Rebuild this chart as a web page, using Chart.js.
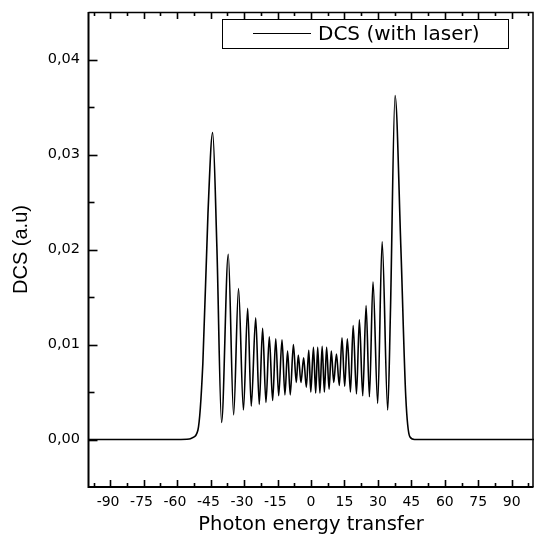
<!DOCTYPE html>
<html><head><meta charset="utf-8">
<script src="https://cdn.jsdelivr.net/npm/chart.js@4/dist/chart.umd.min.js"></script>
<style>html,body{margin:0;padding:0;background:#fff}#wrap{position:relative;width:534px;height:537px}</style>
</head><body><div id="wrap"><canvas id="c" width="534" height="537"></canvas></div>
<script>
const seriesLabel = 'DCS (with laser)';
const xAxisTitle = 'Photon energy transfer';
const yAxisTitle = 'DCS (a.u)';
const xTickLabels = [-90, -75, -60, -45, -30, -15, 0, 15, 30, 45, 60, 75, 90];
const yTickLabels = [0, 0.01, 0.02, 0.03, 0.04];
const energyTransfer = [
  -100, -60, -54.6, -53.1, -50.7, -48.5, -46.2, -44.1, -42.2, -40.1,
  -37.1, -34.7, -32.5, -30.3, -28.4, -26.8, -24.8, -23.2, -21.7, -20.2,
  -18.7, -17.2, -15.8, -14.5, -13.0, -11.7, -10.5, -9.3, -7.9, -6.6,
  -5.7, -4.5, -3.3, -2.1, -1.0, -0.1, 1.1, 2.1, 3.0, 4.0,
  5.0, 6.0, 7.0, 8.1, 9.1, 10.2, 11.4, 12.7, 13.9, 15.1,
  16.3, 17.7, 18.9, 20.4, 21.7, 23.2, 24.7, 26.2, 27.8, 29.9,
  31.9, 34.4, 35.6, 37.7, 40.3, 42.5, 44.3, 46.4, 100
];
const dcsWithLaser = [
  0, 0, 0.00005, 0.0002, 0.001, 0.008, 0.0238, 0.0323, 0.0202, 0.0018,
  0.0195, 0.0026, 0.0159, 0.0031, 0.0138, 0.0035, 0.0128, 0.0037, 0.0117, 0.0039,
  0.0108, 0.0041, 0.0106, 0.0046, 0.0105, 0.0047, 0.0093, 0.0047, 0.0100, 0.0060,
  0.0089, 0.0060, 0.0086, 0.0055, 0.0094, 0.0050, 0.0097, 0.0049, 0.0097, 0.0049,
  0.0098, 0.0050, 0.0097, 0.0053, 0.0093, 0.0060, 0.0090, 0.0057, 0.0107, 0.0056,
  0.0106, 0.0050, 0.0120, 0.0048, 0.0126, 0.0046, 0.0141, 0.0045, 0.0166, 0.0038,
  0.0208, 0.0031, 0.0132, 0.0362, 0.0202, 0.0045, 0.0003, 0, 0
];

const FONT = "'DejaVu Sans', 'Liberation Sans', Arial, sans-serif";
const TITLE_FONT = "'Liberation Sans', Arial, sans-serif";
const isMult = (v, s) => Math.abs(v / s - Math.round(v / s)) < 1e-6;

const framePlugin = {
  id: 'frameTicks',
  afterDraw(chart) {
    const ctx = chart.ctx, a = chart.chartArea;
    const xs = chart.scales.x, ys = chart.scales.y;
    const L = a.left + 0.5, R = a.right - 1, T = a.top, B = a.bottom;
    ctx.save();
    ctx.strokeStyle = '#000';
    ctx.lineWidth = 1.6;
    xs.ticks.forEach(t => {
      const v = t.value;
      if (v <= xs.min || v >= xs.max) return;
      const len = isMult(v, 15) ? 7 : 4;
      const px = Math.round(xs.getPixelForValue(v)) + 0.5;
      ctx.beginPath();
      ctx.moveTo(px, B); ctx.lineTo(px, B - len);
      ctx.moveTo(px, T); ctx.lineTo(px, T + len);
      ctx.stroke();
    });
    ys.ticks.forEach(t => {
      const v = t.value;
      if (v <= ys.min + 1e-9 || v >= ys.max - 1e-9) return;
      const len = isMult(v, 0.01) ? 9 : 6;
      const py = Math.round(ys.getPixelForValue(v)) + 0.5;
      ctx.beginPath();
      ctx.moveTo(L, py); ctx.lineTo(L + len, py);
      ctx.stroke();
    });
    ctx.lineWidth = 1.5;
    ctx.beginPath();
    ctx.moveTo(L, T + 0.5); ctx.lineTo(R, T + 0.5); ctx.lineTo(R, B);
    ctx.stroke();
    ctx.lineWidth = 2;
    ctx.beginPath();
    ctx.moveTo(L, T); ctx.lineTo(L, B); ctx.lineTo(R + 0.5, B);
    ctx.stroke();
    // legend
    const lx = a.left + 134, ly = a.top + 7, lw = 286, lh = 29;
    ctx.lineWidth = 1;
    ctx.fillStyle = '#fff';
    ctx.fillRect(lx, ly, lw, lh);
    ctx.strokeRect(lx + 0.5, ly + 0.5, lw, lh);
    const ds = chart.data.datasets[0];
    ctx.beginPath();
    ctx.lineWidth = 1;
    ctx.moveTo(lx + 31, ly + lh / 2); ctx.lineTo(lx + 89, ly + lh / 2);
    ctx.stroke();
    ctx.fillStyle = '#000';
    ctx.font = "20px " + FONT;
    ctx.textBaseline = 'middle';
    ctx.textAlign = 'left';
    ctx.fillText(ds.label, lx + 96, ly + lh / 2 + 1);
    ctx.restore();
  }
};

new Chart(document.getElementById('c'), {
  type: 'line',
  data: {
    datasets: [{
      label: seriesLabel,
      data: energyTransfer.map((x, i) => ({ x, y: dcsWithLaser[i] })),
      borderColor: '#000',
      borderWidth: 1.6,
      pointRadius: 0,
      fill: false,
      cubicInterpolationMode: 'monotone'
    }]
  },
  options: {
    responsive: false,
    animation: false,
    events: [],
    layout: { padding: { top: 12, right: 0, left: 0, bottom: 0 } },
    plugins: { legend: { display: false }, tooltip: { enabled: false } },
    scales: {
      x: {
        type: 'linear', min: -100, max: 100,
        grid: { display: false, drawTicks: false },
        border: { display: false },
        ticks: {
          stepSize: 7.5, autoSkip: false, maxRotation: 0, minRotation: 0, includeBounds: false,
          color: '#000', font: { family: FONT, size: 14 }, padding: 7,
          callback: v => {
            const l = xTickLabels.find(l => Math.abs(l - v) < 1e-6);
            if (l === undefined) return '';
            return l < 0 ? String(l) + ' ' : String(l);
          }
        },
        title: { display: true, text: xAxisTitle, color: '#000', font: { family: FONT, size: 19.5 }, padding: { top: 0, bottom: 0 } },
        afterFit: s => { s.height = 50; s.paddingLeft = 0; s.paddingRight = 0; }
      },
      y: {
        type: 'linear', min: -0.005, max: 0.045,
        grid: { display: false, drawTicks: false },
        border: { display: false },
        ticks: {
          stepSize: 0.005, autoSkip: false, includeBounds: false,
          color: '#000', font: { family: FONT, size: 14.5 }, padding: 8,
          callback: v => (yTickLabels.some(l => Math.abs(l - v) < 1e-9) ? Math.abs(v).toFixed(2).replace('.', ',') : '')
        },
        title: { display: true, text: yAxisTitle, color: '#000', font: { family: TITLE_FONT, size: 20 }, padding: { top: 9.5, bottom: 0 } },
        afterFit: s => { s.width = 88; s.paddingTop = 0; s.paddingBottom = 0; }
      }
    }
  },
  plugins: [framePlugin]
});
</script></body></html>
